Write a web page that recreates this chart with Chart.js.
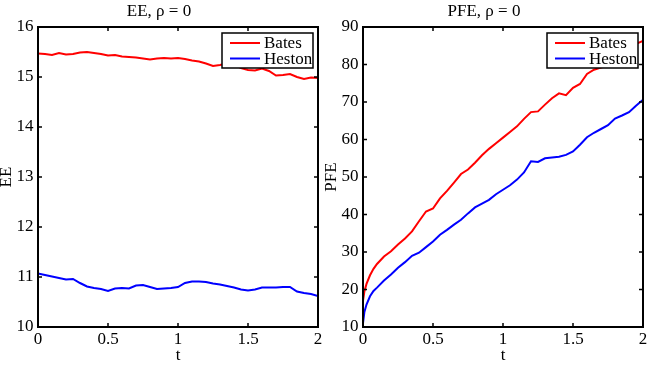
<!DOCTYPE html>
<html>
<head>
<meta charset="utf-8">
<script src="https://cdn.jsdelivr.net/npm/chart.js@4.4.1/dist/chart.umd.min.js"></script>
<style>
  body { margin: 0; background: #fff; }
  canvas { position: absolute; top: 0; }
  #ee { left: 0; }
  #pfe { left: 325px; }
</style>
</head>
<body>
<canvas id="ee" width="324" height="378"></canvas>
<canvas id="pfe" width="324" height="378"></canvas>
<script>
// time grid, left panel
const tEE = [0, 0.05, 0.1, 0.15, 0.2, 0.25, 0.3, 0.35, 0.4, 0.45, 0.5, 0.55, 0.6, 0.65, 0.7, 0.75, 0.8, 0.85, 0.9, 0.95,
  1, 1.05, 1.1, 1.15, 1.2, 1.25, 1.3, 1.35, 1.4, 1.45, 1.5, 1.55, 1.6, 1.65, 1.7, 1.75, 1.8, 1.85, 1.9, 1.95, 2];
const eeBates = [15.47, 15.46, 15.44, 15.48, 15.45, 15.46, 15.49, 15.50, 15.48, 15.46, 15.43, 15.44, 15.41, 15.40, 15.39,
  15.37, 15.35, 15.37, 15.38, 15.37, 15.38, 15.36, 15.33, 15.31, 15.27, 15.22, 15.24, 15.27, 15.25, 15.18, 15.14,
  15.13, 15.17, 15.12, 15.03, 15.04, 15.06, 15.00, 14.96, 14.99, 14.98];
const eeHeston = [11.07, 11.04, 11.01, 10.98, 10.95, 10.96, 10.88, 10.81, 10.78, 10.76, 10.72, 10.77, 10.78, 10.77, 10.83,
  10.84, 10.80, 10.76, 10.77, 10.78, 10.80, 10.88, 10.91, 10.91, 10.90, 10.87, 10.85, 10.82, 10.79, 10.75, 10.73,
  10.75, 10.79, 10.79, 10.79, 10.80, 10.80, 10.71, 10.68, 10.66, 10.62];

// time grid, right panel (denser near 0)
const tPFE = [0, 0.01, 0.025, 0.05, 0.075, 0.1, 0.15, 0.2, 0.25, 0.3, 0.35, 0.4, 0.45, 0.5, 0.55, 0.6, 0.65, 0.7, 0.75,
  0.8, 0.85, 0.9, 0.95, 1, 1.05, 1.1, 1.15, 1.2, 1.25, 1.3, 1.35, 1.4, 1.45, 1.5, 1.55, 1.6, 1.65, 1.7, 1.75, 1.8,
  1.85, 1.9, 1.95, 2];
const pfeBates = [17.0, 19.5, 21.5, 23.8, 25.5, 26.8, 28.8, 30.2, 32.0, 33.6, 35.5, 38.2, 40.8, 41.6, 44.3, 46.3, 48.5,
  50.8, 52.0, 53.8, 55.8, 57.5, 59.0, 60.5, 62.0, 63.5, 65.5, 67.3, 67.5, 69.3, 71.0, 72.3, 71.8, 73.8, 74.8, 77.5,
  78.6, 79.2, 79.8, 81.0, 82.5, 83.8, 85.5, 86.3];
const pfeHeston = [11.0, 14.0, 16.0, 18.2, 19.6, 20.5, 22.4, 24.0, 25.8, 27.3, 29.0, 29.8, 31.3, 32.8, 34.6, 35.9, 37.3,
  38.6, 40.3, 41.9, 42.9, 43.9, 45.4, 46.6, 47.8, 49.3, 51.2, 54.2, 54.0, 55.0, 55.2, 55.4, 55.9, 56.8, 58.6, 60.6,
  61.8, 62.8, 63.8, 65.6, 66.4, 67.3, 69.0, 70.6];

const xTicks = [0, 0.5, 1, 1.5, 2];
const eeTicks = [10, 11, 12, 13, 14, 15, 16];
const pfeTicks = [10, 20, 30, 40, 50, 60, 70, 80, 90];

const FONT = 'Liberation Serif';
const FS = 17;

// box round the plot with inward ticks on all four sides
const frame = {
  id: 'frame',
  afterDatasetsDraw(chart) {
    const { ctx, chartArea: a, scales: { x, y } } = chart;
    ctx.save();
    ctx.strokeStyle = '#000';
    ctx.lineWidth = 1.5;
    ctx.beginPath();
    x.ticks.forEach(t => {
      const px = x.getPixelForValue(t.value);
      ctx.moveTo(px, a.bottom); ctx.lineTo(px, a.bottom - 4);
      ctx.moveTo(px, a.top); ctx.lineTo(px, a.top + 4);
    });
    y.ticks.forEach(t => {
      const py = y.getPixelForValue(t.value);
      ctx.moveTo(a.left, py); ctx.lineTo(a.left + 4, py);
      ctx.moveTo(a.right, py); ctx.lineTo(a.right - 4, py);
    });
    ctx.stroke();
    ctx.lineWidth = 2;
    ctx.strokeRect(a.left, a.top, a.right - a.left, a.bottom - a.top);
    ctx.restore();
  }
};

// matlab style legend box in the upper right corner
const boxLegend = {
  id: 'boxLegend',
  afterDraw(chart) {
    const { ctx, chartArea: a } = chart;
    const w = 91, h = 35;
    const x0 = a.right - 5 - w, y0 = a.top + 6;
    ctx.save();
    ctx.fillStyle = '#fff';
    ctx.fillRect(x0, y0, w, h);
    ctx.strokeStyle = '#000';
    ctx.lineWidth = 1.5;
    ctx.strokeRect(x0, y0, w, h);
    ctx.font = FS + 'px "' + FONT + '"';
    ctx.textBaseline = 'middle';
    ctx.textAlign = 'left';
    chart.data.datasets.forEach((ds, i) => {
      const yy = y0 + 10 + i * 15.5;
      ctx.strokeStyle = ds.borderColor;
      ctx.lineWidth = 2;
      ctx.beginPath();
      ctx.moveTo(x0 + 8, yy);
      ctx.lineTo(x0 + 38, yy);
      ctx.stroke();
      ctx.fillStyle = '#000';
      ctx.fillText(ds.label, x0 + 42, yy + 1);
    });
    ctx.restore();
  }
};

function pts(t, v) {
  return t.map((tt, i) => ({ x: tt, y: v[i] }));
}

function makeChart(id, title, yTitle, yTicks, t, bates, heston) {
  new Chart(document.getElementById(id), {
    type: 'line',
    data: {
      datasets: [
        { label: 'Bates', data: pts(t, bates), borderColor: '#ff0000', borderWidth: 2, pointRadius: 0, fill: false },
        { label: 'Heston', data: pts(t, heston), borderColor: '#0000ff', borderWidth: 2, pointRadius: 0, fill: false }
      ]
    },
    options: {
      responsive: false,
      animation: false,
      layout: { padding: { left: 0, right: 6, top: 0, bottom: 0 } },
      plugins: {
        legend: { display: false },
        tooltip: { enabled: false },
        title: {
          display: true,
          text: title,
          color: '#000',
          font: { family: FONT, size: FS, weight: 'normal' },
          padding: { top: 1.1, bottom: 5.5 }
        }
      },
      scales: {
        x: {
          type: 'linear',
          min: 0,
          max: 2,
          afterBuildTicks: s => { s.ticks = xTicks.map(v => ({ value: v })); },
          afterFit: s => { s.height = 51; s.paddingLeft = 0; s.paddingRight = 0; },
          grid: { display: false, drawTicks: false },
          border: { display: false },
          ticks: {
            color: '#000',
            padding: 2.5,
            maxRotation: 0,
            font: { family: FONT, size: FS },
            callback: v => String(v)
          },
          title: {
            display: true,
            text: 't',
            color: '#000',
            font: { family: FONT, size: FS },
            padding: { top: 0, bottom: 12.3 }
          }
        },
        y: {
          min: yTicks[0],
          max: yTicks[yTicks.length - 1],
          afterBuildTicks: s => { s.ticks = yTicks.map(v => ({ value: v })); },
          afterFit: s => { s.width = 38; s.paddingTop = 0; s.paddingBottom = 0; },
          grid: { display: false, drawTicks: false },
          border: { display: false },
          ticks: {
            color: '#000',
            padding: 4.5,
            font: { family: FONT, size: FS },
            callback: v => String(v)
          },
          title: {
            display: true,
            text: yTitle,
            color: '#000',
            font: { family: FONT, size: FS, lineHeight: 0.75 },
            padding: { top: 0, bottom: 0 }
          }
        }
      }
    },
    plugins: [frame, boxLegend]
  });
}

makeChart('ee', 'EE, ρ = 0', 'EE', eeTicks, tEE, eeBates, eeHeston);
makeChart('pfe', 'PFE, ρ = 0', 'PFE', pfeTicks, tPFE, pfeBates, pfeHeston);
</script>
</body>
</html>
